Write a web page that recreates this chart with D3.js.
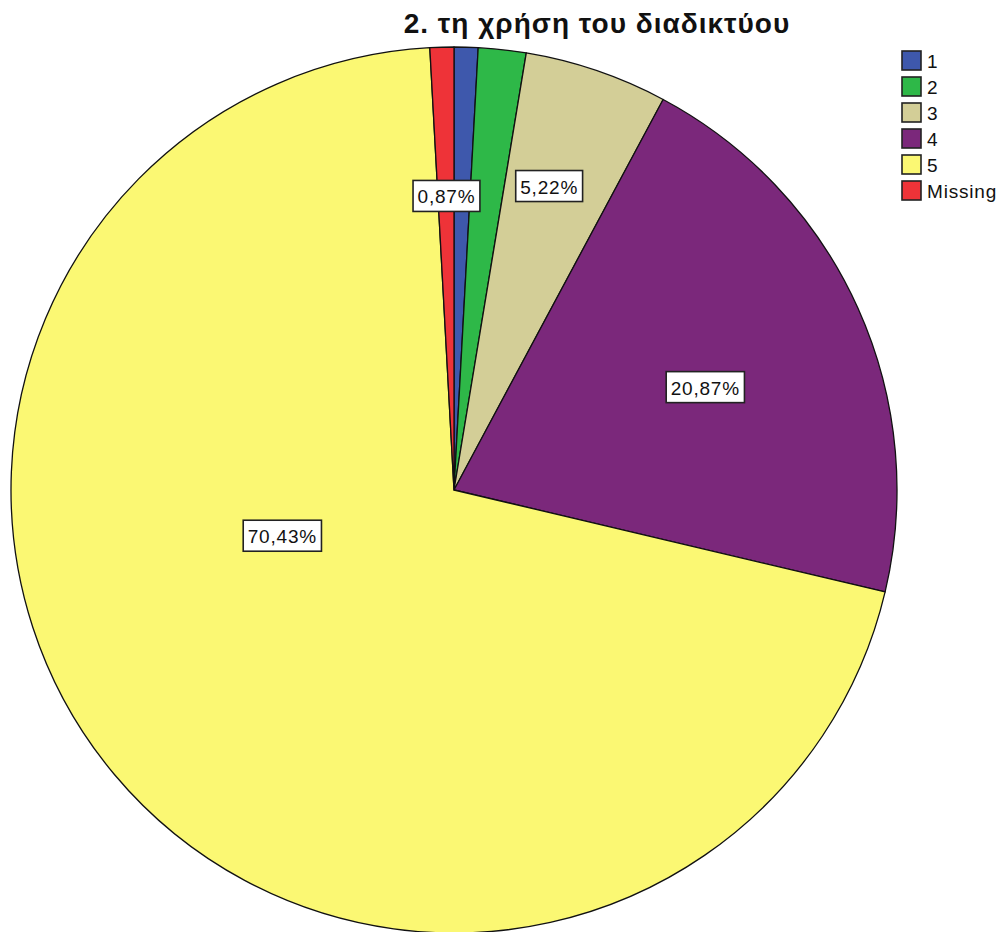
<!DOCTYPE html>
<html>
<head>
<meta charset="utf-8">
<script src="https://cdn.jsdelivr.net/npm/d3@7"></script>
<style>
  html, body { margin: 0; padding: 0; background: #fff; }
  svg { display: block; font-family: "Liberation Sans", Arial, sans-serif; }
</style>
</head>
<body>
<svg id="chart" width="999" height="932"></svg>
<script>
// ---- data ----
const title = "2. τη χρήση του διαδικτύου";
const categories = ["1", "2", "3", "4", "5", "Missing"];
const counts = [1, 2, 6, 24, 81, 1];
const percentLabels = [null, null, "5,22%", "20,87%", "70,43%", "0,87%"];
const colors = ["#3E58AC", "#2EB848", "#D3CE97", "#7B287B", "#FBF873", "#EE3338"];

// ---- layout (not data) ----
const W = 999, H = 932;
const cx = 454, cy = 490, R = 443;
// label placement per slice: [radius fraction, angular shift in degrees]
const labelPlacement = [null, null, [0.719, -1.4], [0.613, 2.0], [0.401, 25.0], [0.664, 0.1]];

const svg = d3.select("#chart");

const pie = d3.pie().sort(null).value(d => d.value);
const arcs = pie(categories.map((c, i) => ({ cat: c, value: counts[i], i })));
const arc = d3.arc().innerRadius(0).outerRadius(R);

const g = svg.append("g").attr("transform", `translate(${cx},${cy})`);

g.selectAll("path.slice")
  .data(arcs)
  .join("path")
  .attr("class", "slice")
  .attr("d", arc)
  .attr("fill", d => colors[d.data.i])
  .attr("stroke", "#111")
  .attr("stroke-width", 1.3)
  .attr("stroke-linejoin", "round");

// labels
const labG = g.selectAll("g.lab")
  .data(arcs.filter(d => percentLabels[d.data.i]))
  .join("g")
  .attr("class", "lab")
  .attr("transform", d => {
    const p = labelPlacement[d.data.i];
    const a = (d.startAngle + d.endAngle) / 2 + p[1] * Math.PI / 180;
    const r = R * p[0];
    return `translate(${r * Math.sin(a)},${-r * Math.cos(a)})`;
  });

labG.each(function(d) {
  const sel = d3.select(this);
  const t = sel.append("text")
    .attr("text-anchor", "middle")
    .attr("dominant-baseline", "central")
    .attr("y", 1)
    .attr("font-size", 19)
    .attr("letter-spacing", 0.8)
    .attr("fill", "#111")
    .text(percentLabels[d.data.i]);
  const bb = t.node().getBBox();
  const w = bb.width + 9, h = 31;
  sel.insert("rect", "text")
    .attr("x", -w / 2).attr("y", -h / 2)
    .attr("width", w).attr("height", h)
    .attr("fill", "#fff")
    .attr("stroke", "#222")
    .attr("stroke-width", 1.6);
});

// title
svg.append("text")
  .attr("x", 597).attr("y", 33)
  .attr("text-anchor", "middle")
  .attr("font-size", 28)
  .attr("font-weight", "bold")
  .attr("letter-spacing", 1)
  .attr("fill", "#111")
  .text(title);

// legend
const legY = d3.scaleBand().domain(categories).range([51, 51 + 26 * categories.length]);
const leg = svg.append("g").selectAll("g")
  .data(categories)
  .join("g")
  .attr("transform", d => `translate(902,${legY(d)})`);
leg.append("rect")
  .attr("width", 19).attr("height", 19)
  .attr("fill", (d, i) => colors[i])
  .attr("stroke", "#222")
  .attr("stroke-width", 1.6);
leg.append("text")
  .attr("x", 25).attr("y", 17)
  .attr("font-size", 19)
  .attr("letter-spacing", 0.8)
  .attr("fill", "#111")
  .text(d => d);
</script>
</body>
</html>
